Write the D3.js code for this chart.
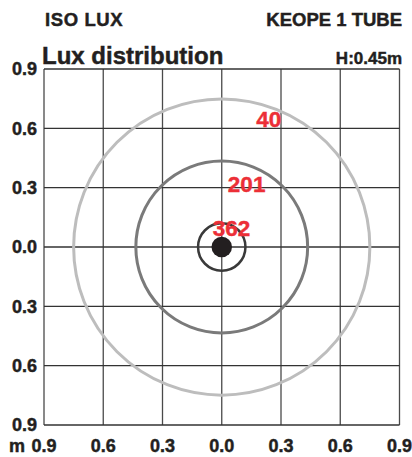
<!DOCTYPE html>
<html>
<head>
<meta charset="utf-8">
<script src="https://cdn.jsdelivr.net/npm/d3@7"></script>
<style>
  body { margin: 0; background: #fff; }
  svg { display: block; font-family: "Liberation Sans", Arial, sans-serif; }
  .heavy { stroke: #231f20; stroke-width: 0.45px; }
</style>
</head>
<body>
<div id="chart"></div>
<script>
// tick values (metres), both axes
const ticks = [-0.9, -0.6, -0.3, 0, 0.3, 0.6, 0.9];
// iso-lux curves: radius in metres and lux value
const radii = [0.75, 0.435, 0.12];
const luxValues = [40, 201, 362];
const curveColors = ['#bdbdbd', '#7a7a7a', '#3a3a3a'];
const curveWidths = [3, 3, 2.5];
// label anchor points (metres), centre of each number
const labelX = [0.238, 0.126, 0.05];
const labelY = [0.648, 0.319, 0.099];
const dotRadius = 0.052;

const width = 412, height = 457;
const margin = { top: 69, right: 12.5, bottom: 32, left: 44 };

const svg = d3.select('#chart').append('svg')
    .attr('width', width)
    .attr('height', height);

const x = d3.scaleLinear()
    .domain([-0.9, 0.9])
    .range([margin.left, width - margin.right]);

const y = d3.scaleLinear()
    .domain([0.9, -0.9])
    .range([margin.top, height - margin.bottom]);

// header texts
svg.append('text')
    .attr('class', 'heavy')
    .attr('x', 45).attr('y', 26)
    .attr('font-size', '18.5px').attr('font-weight', 'bold')
    .attr('letter-spacing', '0.6px')
    .attr('fill', '#231f20')
    .text('ISO LUX');

svg.append('text')
    .attr('class', 'heavy')
    .attr('x', 402).attr('y', 26)
    .attr('text-anchor', 'end')
    .attr('font-size', '18.5px').attr('font-weight', 'bold')
    .attr('fill', '#231f20')
    .text('KEOPE 1 TUBE');

svg.append('text')
    .attr('class', 'heavy')
    .attr('x', 42).attr('y', 64)
    .attr('font-size', '24px').attr('font-weight', 'bold')
    .attr('fill', '#231f20')
    .text('Lux distribution');

svg.append('text')
    .attr('class', 'heavy')
    .attr('x', 402).attr('y', 64)
    .attr('text-anchor', 'end')
    .attr('font-size', '17px').attr('font-weight', 'bold')
    .attr('fill', '#231f20')
    .text('H:0.45m');

// grid
const grid = svg.append('g');
grid.selectAll('line.v')
    .data(ticks)
    .join('line')
    .attr('class', 'v')
    .attr('x1', d => x(d)).attr('x2', d => x(d))
    .attr('y1', y(0.9)).attr('y2', y(-0.9))
    .attr('stroke', '#4a4a4a')
    .attr('stroke-width', 1.3);

grid.selectAll('line.h')
    .data(ticks)
    .join('line')
    .attr('class', 'h')
    .attr('y1', d => y(d)).attr('y2', d => y(d))
    .attr('x1', x(-0.9)).attr('x2', x(0.9))
    .attr('stroke', '#333')
    .attr('stroke-width', 1.3);

// axis labels (absolute values)
const fmt = d3.format('.1f');
svg.selectAll('text.ytick')
    .data(ticks)
    .join('text')
    .attr('class', 'ytick heavy')
    .attr('x', 37)
    .attr('y', d => y(d))
    .attr('dy', '0.36em')
    .attr('text-anchor', 'end')
    .attr('font-size', '18px').attr('font-weight', 'bold')
    .attr('fill', '#231f20')
    .text(d => fmt(Math.abs(d)));

svg.selectAll('text.xtick')
    .data(ticks)
    .join('text')
    .attr('class', 'xtick heavy')
    .attr('x', d => x(d))
    .attr('y', 452)
    .attr('text-anchor', 'middle')
    .attr('font-size', '18px').attr('font-weight', 'bold')
    .attr('fill', '#231f20')
    .text(d => fmt(Math.abs(d)));

svg.append('text')
    .attr('class', 'heavy')
    .attr('x', 9).attr('y', 452)
    .attr('font-size', '18px').attr('font-weight', 'bold')
    .attr('fill', '#231f20')
    .text('m');

// iso-lux circles
const pxPerM = x(1) - x(0);
svg.selectAll('circle.iso')
    .data(radii)
    .join('circle')
    .attr('class', 'iso')
    .attr('cx', x(0)).attr('cy', y(0))
    .attr('r', d => d * pxPerM)
    .attr('fill', 'none')
    .attr('stroke', (d, i) => curveColors[i])
    .attr('stroke-width', (d, i) => curveWidths[i]);

svg.append('circle')
    .attr('cx', x(0)).attr('cy', y(0))
    .attr('r', dotRadius * pxPerM)
    .attr('fill', '#231f20');

// lux labels
svg.selectAll('text.lux')
    .data(luxValues)
    .join('text')
    .attr('class', 'lux')
    .attr('x', (d, i) => x(labelX[i]))
    .attr('y', (d, i) => y(labelY[i]))
    .attr('dy', '0.36em')
    .attr('text-anchor', 'middle')
    .attr('font-size', '22.5px').attr('font-weight', 'bold')
    .attr('fill', '#ec2f37')
    .attr('stroke', '#ec2f37')
    .attr('stroke-width', 0.4)
    .text(d => d);
</script>
</body>
</html>
